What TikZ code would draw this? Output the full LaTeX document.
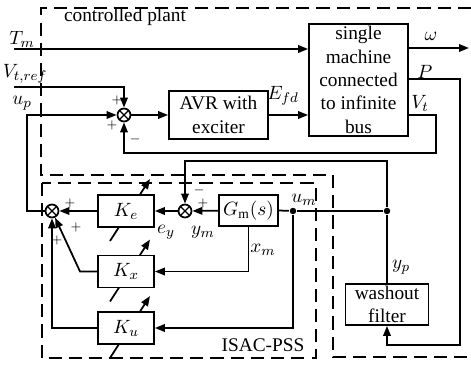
\documentclass[tikz,border=0pt]{standalone}
\usepackage{fontspec}
\setmainfont{Liberation Serif}
\usetikzlibrary{arrows.meta, positioning, calc}

\begin{document}
\begin{tikzpicture}[x=0.02cm, y=-0.02cm, line width=1pt,
      >={Triangle[length=2mm, width=1.5mm]},
      every node/.style={font=\fontsize{11}{13.3}\selectfont},
      blk/.style={draw, fill=white, align=center, inner sep=1pt},
      sumnode/.style={circle, draw, fill=white, minimum size=0.26cm, inner sep=0pt,
        path picture={\draw[line width=0.8pt]
          (path picture bounding box.north west) -- (path picture bounding box.south east)
          (path picture bounding box.north east) -- (path picture bounding box.south west);}},
      sgn/.style={inner sep=0pt, font=\scriptsize},
      lbl/.style={inner sep=0pt},
      frame/.style={dash pattern=on 7.5pt off 4pt, line width=1.1pt},
      dot/.style={circle, fill, inner sep=0pt, minimum size=1.3mm}]
    \useasboundingbox (0,0) rectangle (471,365);
    % dashed frames
    \draw[frame] (471,8) -- (41,8) -- (41,175) -- (333,175) -- (333,357) -- (471,357);
    \draw[frame] (42,183) rectangle (316,358);
    \node[lbl] (plantlbl) at (125,17) {controlled plant};
    \node[lbl] (psslbl) at (263,345) {ISAC-PSS};
    % adjustable gains (arrows under the boxes)
    \foreach \y in {211,271.5,328} \draw[->] (110,\y+30) -- (150,\y-32);
    % plant blocks
    \node[blk, minimum width=1.98cm, minimum height=2.24cm] (machine) at (358.5,80)
      {single\\machine\\connected\\to infinite\\bus};
    \node[blk, minimum width=1.98cm, minimum height=0.96cm] (avr) at (218.5,115) {AVR with\\exciter};
    \node[sumnode] (sumv) at (124,115) {};
    \node[blk, minimum width=1.66cm, minimum height=0.82cm] (washout) at (387,304.5) {washout\\filter};
    % ISAC-PSS blocks
    \node[blk, minimum width=1.18cm, minimum height=0.62cm] (gm) at (248.5,210.5) {$G_{\mathrm{m}}(s)$};
    \node[sumnode] (ctrlsum) at (185,211) {};
    \node[blk, minimum width=1.12cm, minimum height=0.64cm] (ke) at (126,211) {$K_e$};
    \node[blk, minimum width=1.12cm, minimum height=0.64cm] (kx) at (126,271.5) {$K_x$};
    \node[blk, minimum width=1.12cm, minimum height=0.64cm] (ku) at (126,328) {$K_u$};
    \node[sumnode] (pssum) at (52,211) {};
    \node[dot] (um) at (293,211) {};
    \node[dot] (yp) at (387,211) {};
    % bend points
    \coordinate (tmin) at (14,49);
    \coordinate (vref) at (14,87);
    \coordinate (omega) at (469,48);
    \coordinate (vtout) at (436,115);
    \coordinate (vtc) at (436,153);
    \coordinate (pout) at (460,79);
    \coordinate (pc) at (460,345);
    \coordinate (ytop) at (387,161);
    \coordinate (kxbend) at (80,271.5);
    \coordinate (upc) at (27,115);
    % plant wiring
    \draw[->] (tmin) -- (tmin -| machine.west);
    \draw[->] (omega -| machine.east) -- (omega);
    \draw[->] (vref) -| (sumv.north);
    \draw[->] (sumv) -- (avr);
    \draw[->] (avr) -- (machine.west |- avr);
    \draw[->] (vtout -| machine.east) -- (vtout) -- (vtc) -| (sumv.south);
    \draw[->] (pout -| machine.east) -- (pout) -- (pc) -| (washout.south);
    % PSS wiring
    \draw[->] (washout.north) -- (yp) -- (ytop) -| (ctrlsum.north);
    \draw (gm.east) -- (um) -- (yp);
    \draw[->] (um) |- (ku.east);
    \draw[->] (gm.south) |- (kx.east);
    \draw[->] (gm) -- (ctrlsum);
    \draw[->] (ctrlsum) -- (ke);
    \draw[->] (ke) -- (pssum);
    \draw[->] (kx.west) -- (kxbend) -- (pssum);
    \draw[->] (ku.west) -| (pssum.south);
    \draw[->] (pssum.west) -| (upc) -- (sumv.west);
    % signal labels
    \node[lbl] (tmlbl) at (22,39) {$T_m$};
    \node[lbl] (vreflbl) at (25,74) {$V_{t,ref}$};
    \node[lbl] (uplbl) at (22,103) {$u_p$};
    \node[lbl] (efdlbl) at (283,96) {$E_{fd}$};
    \node[lbl] (omegalbl) at (431,36) {$\omega$};
    \node[lbl] (plbl) at (425,72) {$P$};
    \node[lbl] (vtlbl) at (420,103) {$V_t$};
    \node[lbl] (eylbl) at (166,232) {$e_y$};
    \node[lbl] (ymlbl) at (203,232) {$y_m$};
    \node[lbl] (umlbl) at (304,200) {$u_m$};
    \node[lbl] (xmlbl) at (263,250) {$x_m$};
    \node[lbl] (yplbl) at (401,267) {$y_p$};
    % signs
    \node[sgn] (s1) at (117,100) {$+$};
    \node[sgn] (s2) at (112,125) {$+$};
    \node[sgn] (s3) at (135,139) {$-$};
    \node[sgn] (s4) at (199,190) {$-$};
    \node[sgn] (s5) at (203,203) {$+$};
    \node[sgn] (s6) at (70,203) {$+$};
    \node[sgn] (s7) at (76,227) {$+$};
    \node[sgn] (s8) at (57,240) {$+$};
  \end{tikzpicture}
\end{document}
